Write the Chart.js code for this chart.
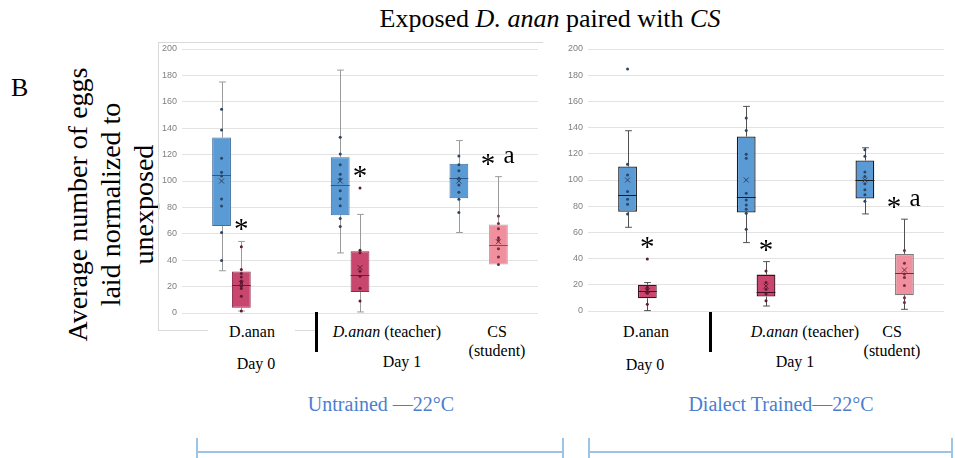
<!DOCTYPE html>
<html>
<head>
<meta charset="utf-8">
<script src="https://cdn.jsdelivr.net/npm/chart.js@4.4.1/dist/chart.umd.min.js"></script>
<style>
  body { margin: 0; background: #fff; }
  #page { position: relative; width: 955px; height: 458px; overflow: hidden; font-family: "Liberation Serif", "Times New Roman", serif; color: #000; }
  .abs { position: absolute; font-family: "Liberation Serif", "Times New Roman", serif; }
  .lbl { position: absolute; transform: translateX(-50%); white-space: nowrap; font-family: "Liberation Serif", "Times New Roman", serif; font-size: 16px; line-height: 19px; text-align: center; }
  .group { position: absolute; transform: translateX(-50%); white-space: nowrap; font-family: "Liberation Serif", "Times New Roman", serif; font-size: 20px; line-height: 22px; color: #4a7ecf; }
  canvas { position: absolute; }
</style>
</head>
<body>
<div id="page">
  <div class="abs" style="left:300px;top:6px;width:500px;text-align:center;font-size:26px;line-height:26px;">Exposed <i>D. anan</i> paired with <i>CS</i></div>
  <div class="abs" style="left:11px;top:75px;font-size:26px;line-height:26px;">B</div>
  <div class="abs" style="left:-40px;top:155px;width:300px;height:99px;transform:rotate(-90deg);text-align:center;font-size:28px;line-height:33px;">Average number of eggs<br>laid normalized to<br>unexposed</div>

  <!-- frame of the left panel -->
  <div class="abs" style="left:158px;top:42px;width:384px;height:288px;border-left:1px solid #d9d9d9;border-top:1px solid #d9d9d9;"></div>
  <div class="abs" style="left:158px;top:330px;width:50px;height:1px;background:#d9d9d9;"></div>
  <div class="abs" style="left:295px;top:330px;width:20px;height:1px;background:#d9d9d9;"></div>

  <canvas id="untrained" width="400" height="280" style="left:150px;top:40px;"></canvas>
  <canvas id="trained" width="396" height="280" style="left:556px;top:40px;"></canvas>

  <!-- category labels -->
  <div class="lbl" style="left:252px;top:322px;">D.anan</div>
  <div class="lbl" style="left:387px;top:322px;"><i>D.anan</i> (teacher)</div>
  <div class="lbl" style="left:497px;top:322px;">CS<br>(student)</div>
  <div class="lbl" style="left:256px;top:354px;">Day 0</div>
  <div class="lbl" style="left:402px;top:352px;">Day 1</div>
  <div class="abs" style="left:315px;top:312px;width:3px;height:40px;background:#000;"></div>

  <div class="lbl" style="left:646px;top:322px;">D.anan</div>
  <div class="lbl" style="left:805px;top:322px;"><i>D.anan</i> (teacher)</div>
  <div class="lbl" style="left:892px;top:322px;">CS<br>(student)</div>
  <div class="lbl" style="left:645px;top:355px;">Day 0</div>
  <div class="lbl" style="left:795px;top:352px;">Day 1</div>
  <div class="abs" style="left:709px;top:312px;width:3px;height:40px;background:#000;"></div>

  <div class="group" style="left:381px;top:393px;">Untrained —22°C</div>
  <div class="group" style="left:781px;top:393px;">Dialect Trained—22°C</div>

  <!-- brackets -->
  <div class="abs" style="left:197px;top:451px;width:366px;height:2px;background:#9dc3e6;"></div>
  <div class="abs" style="left:196px;top:438px;width:2px;height:20px;background:#9dc3e6;"></div>
  <div class="abs" style="left:562px;top:438px;width:2px;height:20px;background:#9dc3e6;"></div>
  <div class="abs" style="left:589px;top:451px;width:363px;height:2px;background:#9dc3e6;"></div>
  <div class="abs" style="left:588px;top:438px;width:2px;height:20px;background:#9dc3e6;"></div>
  <div class="abs" style="left:951px;top:438px;width:2px;height:20px;background:#9dc3e6;"></div>
</div>

<script>
"use strict";

const categories = ["D.anan", "D.anan (teacher)", "CS (student)"];

// box summaries: [min, q1, median, q3, max]
// untrained, 22°C
const untrainedBlue = [[32, 66, 104.5, 133, 175], [45.5, 74, 96.7, 118, 184], [61, 87, 102.5, 113, 130.6]];
const untrainedBlueMean = [100, 100, 100];
const untrainedBluePts = [
  [154.4, 138.7, 117.2, 106.6, 103.8, 86.3, 81, 61, 39.7],
  [133.2, 120.5, 112.4, 105.1, 101.5, 92.7, 86.6, 81.3, 71.6, 65.6],
  [119, 112.4, 107.8, 102, 97, 91.4, 86.1, 76.2]
];
const untrainedRed = [[1.5, 4, 21.5, 31.4, 54.2], [0.8, 15.9, 29.1, 46.8, 74.7], null];
const untrainedRedMean = [22.5, 34.4, null];
const untrainedRedPts = [
  [50.1, 32.9, 29.9, 27.3, 24.3, 22.8, 20.3, 18.5, 12.7, 1.5],
  [94.7, 47.6, 45.6, 31.6, 27.8, 18.7, 9.1],
  null
];
const untrainedPink = [null, null, [36.7, 36.7, 51.6, 67.1, 103.3]];
const untrainedPinkMean = [null, null, 54];
const untrainedPinkPts = [null, null, [73.4, 67.8, 63.8, 57, 55.2, 48.6, 42.5, 36.7]];
const untrainedMarks = ["*", "*", "* a"];

// dialect trained, 22°C
const trainedBlue = [[63.9, 75.7, 88.4, 110.3, 137.6], [52.2, 75.2, 86.9, 133.2, 156.2], [74.1, 85.9, 99.9, 114.9, 124.6]];
const trainedBlueMean = [100, 100, 100];
const trainedBluePts = [
  [184.7, 112.1, 103.9, 91.2, 85.4, 81.5, 74.1],
  [147.3, 137.8, 119.7, 116.6, 89.9, 84.8, 81, 77.7, 74.6, 62.4],
  [123, 118.2, 106.2, 102.7, 97.1, 92.5, 88.7, 83.8]
];
const trainedRed = [[0.3, 9.7, 15, 20.1, 21.7], [3.8, 11, 14.8, 27.8, 37.7], null];
const trainedRedMean = [15.5, 19, null];
const trainedRedPts = [[39.7, 18.1, 16.6, 14.8, 13.5, 5.1], [30.6, 21.7, 16.6, 13, 7.9], null];
const trainedPink = [null, null, [1.3, 12, 28.8, 43.6, 70.1]];
const trainedPinkMean = [null, null, 31.3];
const trainedPinkPts = [null, null, [46.1, 36.4, 28.3, 25.5, 19.4, 10.2, 6.4]];
const trainedMarks = ["*", "*", "* a"];

const yMin = 0, yMax = 200, yStep = 20;

// whiskers behind, median / mean / dots / marks on top
const boxPlugin = {
  id: "boxes",
  beforeDatasetsDraw(chart, args, opts) {
    const ctx = chart.ctx, y = chart.scales.y;
    chart.data.datasets.forEach((ds, d) => {
      const meta = chart.getDatasetMeta(d);
      ds.stats.forEach((s, i) => {
        if (!s) return;
        const el = meta.data[i];
        const x = Math.round(el.x) + 0.5, cap = el.width * 0.18;
        ctx.save();
        ctx.strokeStyle = opts.whisker;
        ctx.lineWidth = 1;
        ctx.beginPath();
        if (s[4] > s[3]) {
          const t = y.getPixelForValue(s[4]);
          ctx.moveTo(x, t); ctx.lineTo(x, y.getPixelForValue(s[3]));
          ctx.moveTo(x - cap, t); ctx.lineTo(x + cap, t);
        }
        if (s[0] < s[1]) {
          const b = y.getPixelForValue(s[0]);
          ctx.moveTo(x, b); ctx.lineTo(x, y.getPixelForValue(s[1]));
          ctx.moveTo(x - cap, b); ctx.lineTo(x + cap, b);
        }
        ctx.stroke();
        ctx.restore();
      });
    });
  },
  afterDatasetsDraw(chart, args, opts) {
    const ctx = chart.ctx, y = chart.scales.y;
    const tops = [];
    chart.data.datasets.forEach((ds, d) => {
      const meta = chart.getDatasetMeta(d);
      ds.stats.forEach((s, i) => {
        if (!s) return;
        const el = meta.data[i];
        const x = el.x, half = el.width / 2;
        ctx.save();
        // median
        const m = Math.round(y.getPixelForValue(s[2])) + 0.5;
        ctx.strokeStyle = ds.medianColor;
        ctx.lineWidth = 1;
        ctx.beginPath();
        ctx.moveTo(x - half, m); ctx.lineTo(x + half, m);
        ctx.stroke();
        // dots
        ctx.fillStyle = ds.dotColor;
        (ds.pts[i] || []).forEach(v => {
          ctx.beginPath();
          ctx.arc(x, y.getPixelForValue(v), 1.5, 0, Math.PI * 2);
          ctx.fill();
        });
        // mean
        if (ds.means[i] != null) {
          const my = y.getPixelForValue(ds.means[i]);
          ctx.strokeStyle = ds.dotColor;
          ctx.beginPath();
          ctx.moveTo(x - 2.5, my - 2.5); ctx.lineTo(x + 2.5, my + 2.5);
          ctx.moveTo(x + 2.5, my - 2.5); ctx.lineTo(x - 2.5, my + 2.5);
          ctx.stroke();
        }
        ctx.restore();
        if (d > 0) {
          const top = Math.max(s[4], ...(ds.pts[i] || []));
          tops[i] = { x: x, v: top };
        }
      });
    });
    // significance marks
    ctx.save();
    ctx.fillStyle = "#000";
    ctx.textAlign = "center";
    ctx.textBaseline = "alphabetic";
    opts.marks.forEach((mk, i) => {
      const t = tops[i];
      if (!t) return;
      const cy = y.getPixelForValue(t.v + 13);
      const parts = mk.split(" ");
      const gap = 21;
      const x0 = t.x - (parts.length - 1) * gap / 2;
      parts.forEach((p, k) => {
        const star = p === "*";
        ctx.font = (star ? 29 : 25) + "px 'Liberation Serif'";
        ctx.fillText(p, x0 + k * gap, cy + (star ? 14 : 4));
      });
    });
    ctx.restore();
  }
};

function boxData(stats) {
  return stats.map(s => (s ? [s[1], s[3]] : null));
}

function makeChart(id, blue, red, pink, padRight, padBottom, look) {
  const sets = [
    { stats: blue[0], means: blue[1], pts: blue[2], fill: "#5b9bd5", border: look.blueBorder, median: look.blueMedian, dot: "#2c4563" },
    { stats: red[0], means: red[1], pts: red[2], fill: "#c9466e", border: look.redBorder, median: look.redMedian, dot: "#5e1a33" },
    { stats: pink[0], means: pink[1], pts: pink[2], fill: "#f0909f", border: look.pinkBorder, median: look.pinkMedian, dot: "#7a2a40" }
  ];
  return new Chart(document.getElementById(id), {
    type: "bar",
    data: {
      labels: categories,
      datasets: sets.map(s => ({
        data: boxData(s.stats),
        stats: s.stats,
        means: s.means,
        pts: s.pts,
        backgroundColor: s.fill,
        borderColor: s.border,
        borderWidth: look.borderWidth,
        borderSkipped: false,
        medianColor: s.median,
        dotColor: s.dot,
        categoryPercentage: 0.5,
        barPercentage: 0.95
      }))
    },
    options: {
      responsive: false,
      animation: false,
      layout: { padding: { left: 0, right: padRight, top: 9, bottom: padBottom } },
      plugins: {
        legend: { display: false },
        tooltip: { enabled: false },
        boxes: { whisker: look.whisker, marks: look.marks }
      },
      scales: {
        x: { display: false },
        y: {
          min: yMin,
          max: yMax,
          afterFit(scale) {
            scale.width = 32;
            scale.paddingTop = 0;
            scale.paddingBottom = 0;
          },
          ticks: { stepSize: yStep, padding: 5, color: "#808080", font: { family: "Liberation Sans", size: 9 } },
          grid: { color: "#e3e3e3", drawTicks: false },
          border: { display: false }
        }
      }
    },
    plugins: [boxPlugin]
  });
}

makeChart("untrained",
  [untrainedBlue, untrainedBlueMean, untrainedBluePts],
  [untrainedRed, untrainedRedMean, untrainedRedPts],
  [untrainedPink, untrainedPinkMean, untrainedPinkPts],
  12, 7,
  { blueBorder: "#3f6f9e", redBorder: "#8e2c4c", pinkBorder: "#a8a8a8", blueMedian: "#2f5a85", redMedian: "#6e1f3a", pinkMedian: "#8a4a58",
    whisker: "#9a9a9a", borderWidth: 1, marks: untrainedMarks });

makeChart("trained",
  [trainedBlue, trainedBlueMean, trainedBluePts],
  [trainedRed, trainedRedMean, trainedRedPts],
  [trainedPink, trainedPinkMean, trainedPinkPts],
  8, 9,
  { blueBorder: "#1b1b1b", redBorder: "#3a1222", pinkBorder: "#7a7a7a", blueMedian: "#1b1b1b", redMedian: "#3a1222", pinkMedian: "#5a3a40",
    whisker: "#505050", borderWidth: 1.3, marks: trainedMarks });
</script>
</body>
</html>
